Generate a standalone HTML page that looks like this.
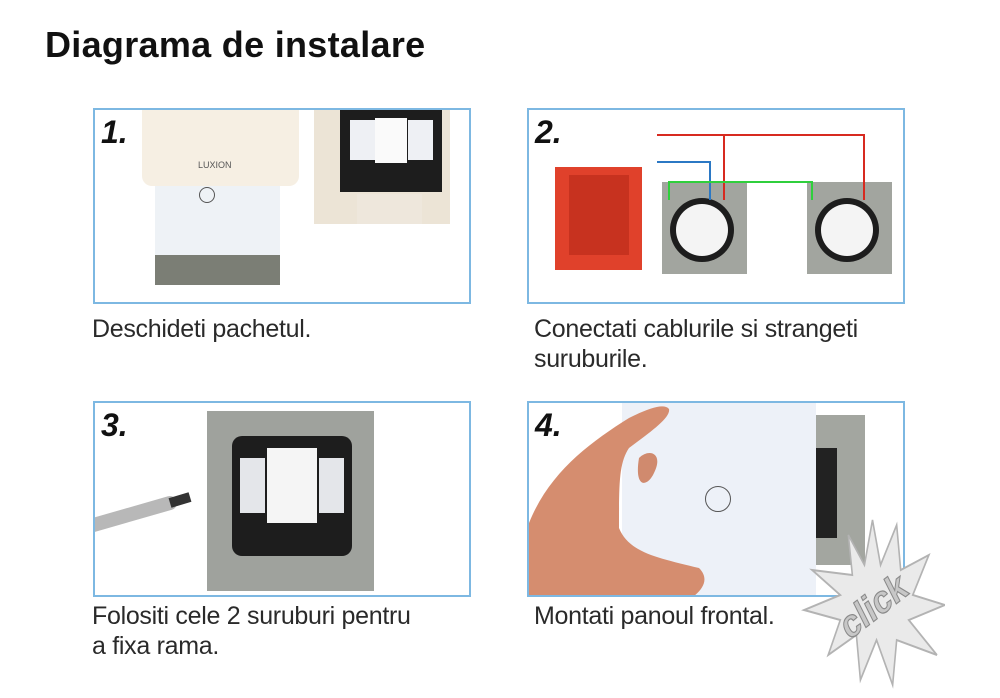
<!DOCTYPE html>
<html><head><meta charset="utf-8"><style>
body{margin:0;width:1000px;height:698px;background:#fff;position:relative;overflow:hidden;font-family:"Liberation Sans",sans-serif}
.a{position:absolute}
.box{position:absolute;border:2px solid #7db8e2;box-sizing:border-box;overflow:hidden;background:#fff}
.num{position:absolute;font-weight:bold;font-style:italic;font-size:32px;color:#111;left:6px;top:4px;z-index:5}
.cap{position:absolute;font-size:25px;color:#2a2a2a;line-height:30px;letter-spacing:-0.3px}
</style></head><body>
<div class="a" style="left:45px;top:24px;font-size:36px;font-weight:bold;color:#111;letter-spacing:0.3px">Diagrama de instalare</div>

<div class="box" style="left:93px;top:108px;width:378px;height:196px">
 <div class="num">1.</div>
 <div class="a" style="left:60px;top:75px;width:125px;height:75px;background:#eef2f6"></div>
 <div class="a" style="left:60px;top:145px;width:125px;height:30px;background:#7b7e75"></div>
 <div class="a" style="left:47px;top:-2px;width:157px;height:78px;background:#f6efe3;border-radius:0 0 10px 10px"></div>
 <div class="a" style="left:103px;top:50px;font-size:9px;color:#555">LUXION</div>
 <div class="a" style="left:104px;top:77px;width:14px;height:14px;border:1px solid #555;border-radius:50%"></div>
 <div class="a" style="left:219px;top:-2px;width:136px;height:116px;background:#ece4d6"></div>
 <div class="a" style="left:245px;top:-2px;width:102px;height:84px;background:#1d1d1d"></div>
 <div class="a" style="left:255px;top:10px;width:25px;height:40px;background:#eef0f4"></div>
 <div class="a" style="left:280px;top:8px;width:32px;height:45px;background:#fafafa"></div>
 <div class="a" style="left:313px;top:10px;width:25px;height:40px;background:#eef0f4"></div>
 <div class="a" style="left:262px;top:84px;width:65px;height:30px;background:#eee7dc"></div>
</div>

<div class="box" style="left:527px;top:108px;width:378px;height:196px">
 <div class="num">2.</div>
 <svg class="a" style="left:0;top:0" width="378" height="196">
  <rect x="26" y="57" width="87" height="103" fill="#e0412b"/>
  <rect x="40" y="65" width="60" height="80" fill="#c7321f"/>
  <rect x="133" y="72" width="85" height="92" fill="#a2a59f"/>
  <rect x="278" y="72" width="85" height="92" fill="#a2a59f"/>
  <circle cx="173" cy="120" r="32" fill="#1d1d1d"/><circle cx="173" cy="120" r="26" fill="#f4f4f4"/>
  <circle cx="318" cy="120" r="32" fill="#1d1d1d"/><circle cx="318" cy="120" r="26" fill="#f4f4f4"/>
  <polyline points="128,25 335,25 335,90" fill="none" stroke="#d72a20" stroke-width="2"/>
  <polyline points="195,25 195,90" fill="none" stroke="#d72a20" stroke-width="2"/>
  <polyline points="128,52 181,52 181,90" fill="none" stroke="#2b78c4" stroke-width="2"/>
  <polyline points="140,90 140,72 283,72 283,90" fill="none" stroke="#2fcf3c" stroke-width="2"/>
 </svg>
</div>

<div class="box" style="left:93px;top:401px;width:378px;height:196px">
 <div class="num">3.</div>
 <div class="a" style="left:112px;top:8px;width:167px;height:180px;background:#9fa29d"></div>
 <div class="a" style="left:137px;top:33px;width:120px;height:120px;background:#1d1d1d;border-radius:10px"></div>
 <div class="a" style="left:172px;top:45px;width:50px;height:75px;background:#f5f5f5"></div>
 <div class="a" style="left:145px;top:55px;width:25px;height:55px;background:#e4e6ea"></div>
 <div class="a" style="left:224px;top:55px;width:25px;height:55px;background:#e4e6ea"></div>
 <svg class="a" style="left:0;top:0" width="120" height="196"><line x1="-5" y1="123" x2="75" y2="100" stroke="#b8b8b8" stroke-width="14" stroke-linecap="round"/><line x1="75" y1="100" x2="95" y2="94" stroke="#333" stroke-width="10"/></svg>
</div>

<div class="box" style="left:527px;top:401px;width:378px;height:196px">
 <div class="num">4.</div>
 <div class="a" style="left:286px;top:12px;width:50px;height:150px;background:#a3a6a0"></div>
 <div class="a" style="left:286px;top:45px;width:22px;height:90px;background:#222"></div>
 <div class="a" style="left:93px;top:0;width:194px;height:196px;background:#edf1f8"></div>
 <div class="a" style="left:176px;top:83px;width:24px;height:24px;border:1.5px solid #555;border-radius:50%"></div>
 <svg class="a" style="left:0;top:0" width="378" height="196">
  <path d="M0,120 C20,70 60,40 100,15 C120,5 135,0 140,6 C142,15 120,30 100,45 C90,60 90,80 90,125 C100,150 130,155 170,165 C180,175 175,185 165,193 L0,196Z" fill="#d58d6f"/>
  <path d="M110,55 C120,45 135,50 125,70 C118,85 105,85 110,55Z" fill="#d08a6e"/>
 </svg>
</div>

<div class="cap" style="left:92px;top:314px">Deschideti pachetul.</div>
<div class="cap" style="left:534px;top:314px">Conectati cablurile si strangeti<br>suruburile.</div>
<div class="cap" style="left:92px;top:601px">Folositi cele 2 suruburi pentru<br>a fixa rama.</div>
<div class="cap" style="left:534px;top:601px">Montati panoul frontal.</div>

<svg class="a" style="left:800px;top:515px" width="145" height="180" viewBox="0 0 180 180" preserveAspectRatio="none">
 <polygon points="90,5 100,50 120,10 125,55 160,40 140,80 180,90 135,105 170,140 120,125 115,170 95,125 75,165 70,120 35,140 50,105 5,95 50,80 15,55 65,60 60,20 80,50" fill="#eaeaea" stroke="#b3b3b3" stroke-width="2"/>
 <text x="92" y="104" font-family="Liberation Sans,sans-serif" font-weight="bold" font-size="40" fill="#c7c7c7" stroke="#8a8a8a" stroke-width="1.2" text-anchor="middle" transform="rotate(-32 92 92)">click</text>
</svg>
</body></html>
